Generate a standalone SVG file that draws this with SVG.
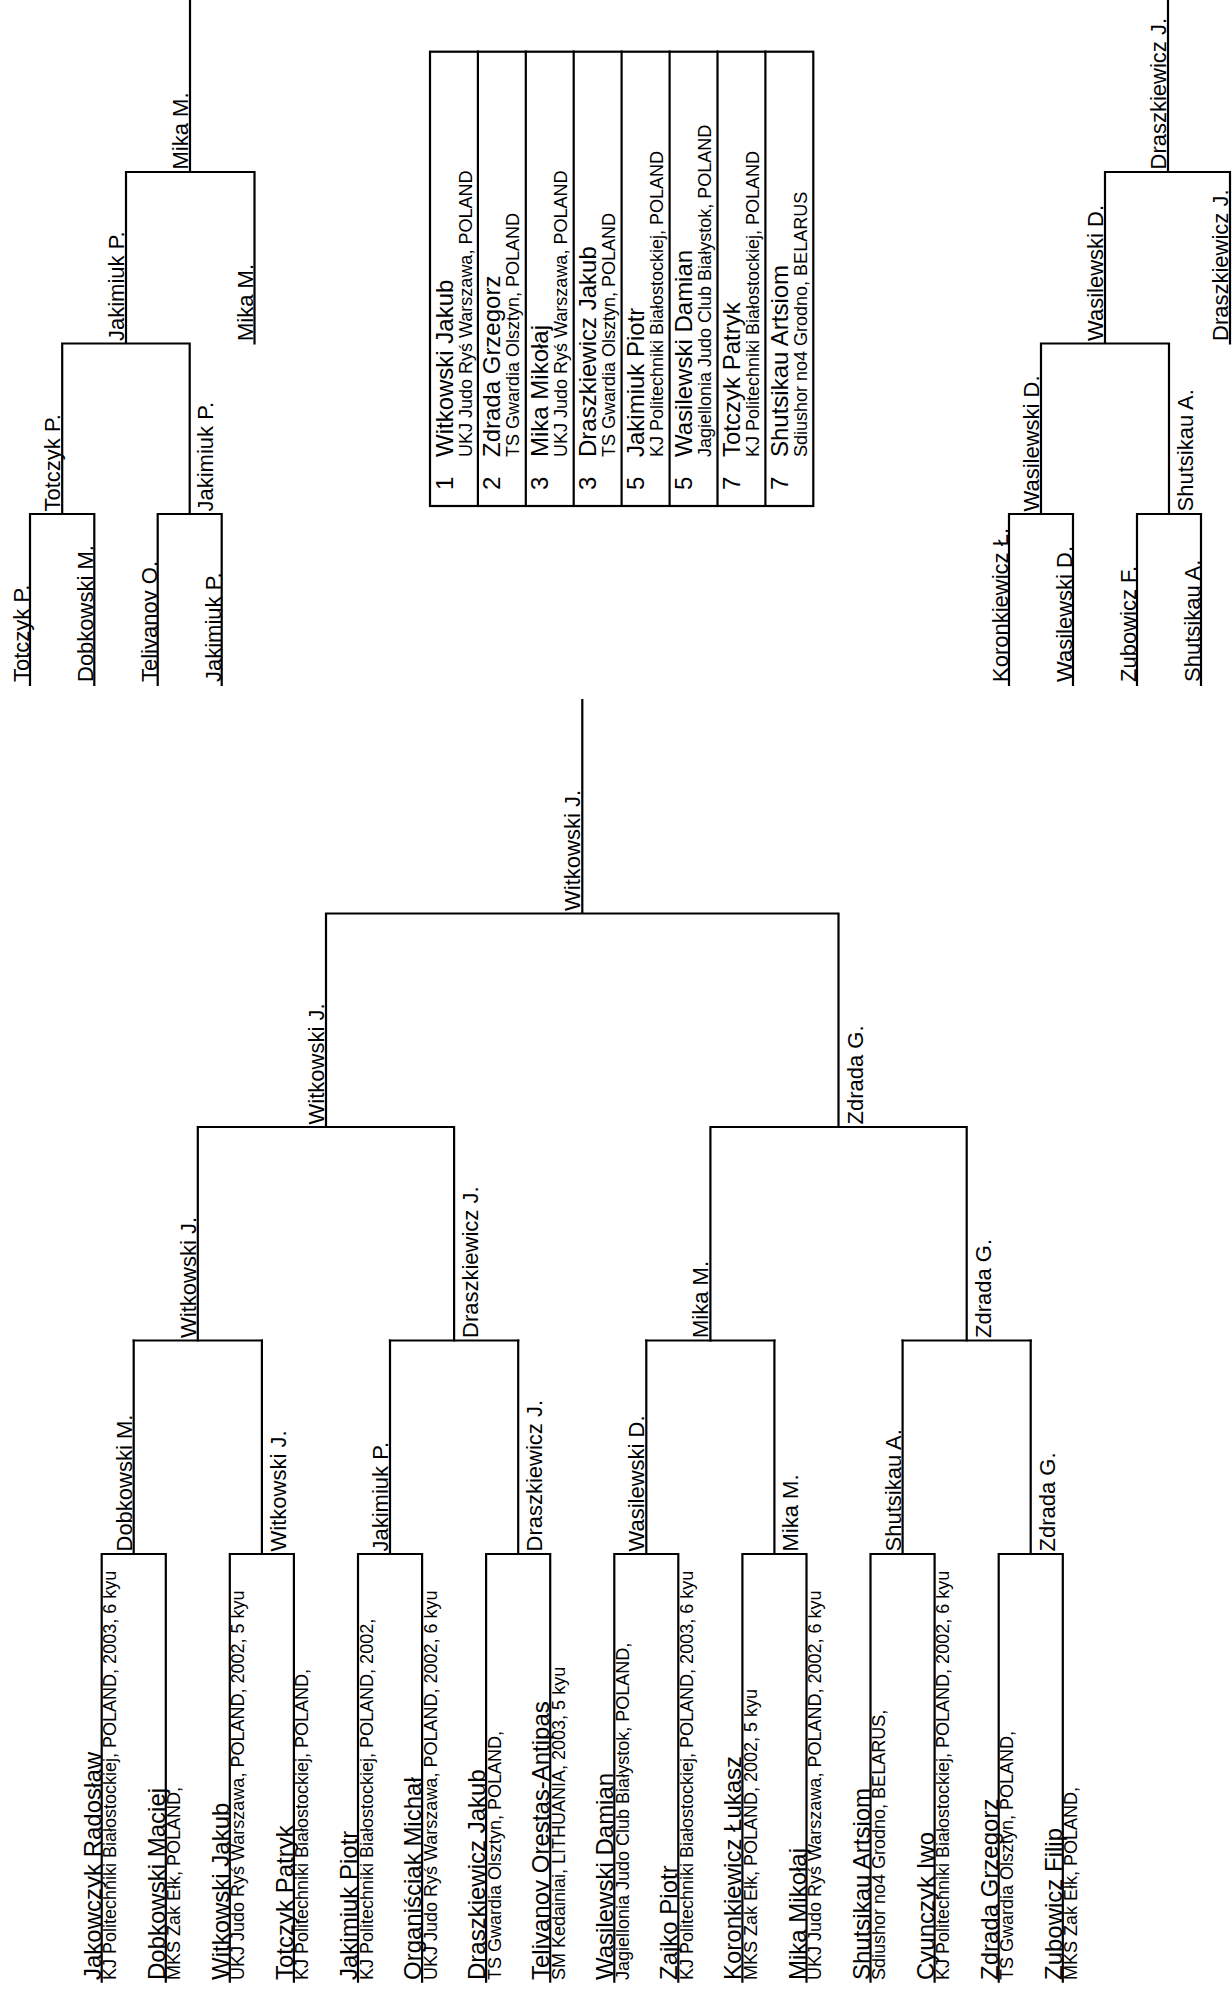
<svg xmlns="http://www.w3.org/2000/svg" width="1232" height="1990" viewBox="0 0 1232 1990">
<style>
text{font-family:"Liberation Sans",Arial,sans-serif;fill:#000}
.n{font-size:24px}
.c{font-size:18px}
.r{font-size:22px}
.rk{font-size:24px}
.ln{fill:none;stroke:#000;stroke-width:2.2;stroke-linecap:square}
</style>
<rect width="1232" height="1990" fill="#fff"/>
<g id="connectors" class="ln">
<path d="M101.7 1981.7V1554H165.8V1981.7M229.8 1981.7V1554H293.9V1981.7M358 1981.7V1554H422.1V1981.7M486.1 1981.7V1554H550.2V1981.7M614.3 1981.7V1554H678.3V1981.7M742.4 1981.7V1554H806.5V1981.7M870.5 1981.7V1554H934.6V1981.7M998.7 1981.7V1554H1062.8V1981.7"/>
<path d="M133.7 1554V1340.5M261.9 1554V1340.5M390 1554V1340.5M518.2 1554V1340.5M646.3 1554V1340.5M774.4 1554V1340.5M902.6 1554V1340.5M1030.7 1554V1340.5"/>
<path d="M133.7 1340.5H261.9M390 1340.5H518.2M646.3 1340.5H774.4M902.6 1340.5H1030.7"/>
<path d="M197.8 1340.5V1127M454.1 1340.5V1127M710.4 1340.5V1127M966.7 1340.5V1127M197.8 1127H454.1M710.4 1127H966.7"/>
<path d="M326 1127V913.5M838.5 1127V913.5M326 913.5H838.5M582.3 913.5V700"/>
<path d="M30 685V514H94.3V685M157.7 685V514H221.7V685M62.2 514V343.5M189.7 514V343.5M62.2 343.5H189.7M126 343.5V172M126 172H254.5V343.5M190 172V0"/>
<path d="M1009 685V514H1073V685M1137 685V514H1201V685M1041 514V343.5M1169 514V343.5M1041 343.5H1169M1105 343.5V172M1105 172H1230V343.5M1168 172V0"/>
</g>
<g id="leaves">
<g id="p1"><text class="n" transform="translate(100.7,1980) rotate(-90)">Jakowczyk Radosław</text><text class="c" transform="translate(116.2,1980) rotate(-90)">KJ Politechniki Białostockiej, POLAND, 2003, 6 kyu</text></g>
<g id="p2"><text class="n" transform="translate(164.8,1980) rotate(-90)">Dobkowski Maciej</text><text class="c" transform="translate(180.3,1980) rotate(-90)">MKS Zak Ełk, POLAND,</text></g>
<g id="p3"><text class="n" transform="translate(228.8,1980) rotate(-90)">Witkowski Jakub</text><text class="c" transform="translate(244.3,1980) rotate(-90)">UKJ Judo Ryś Warszawa, POLAND, 2002, 5 kyu</text></g>
<g id="p4"><text class="n" transform="translate(292.9,1980) rotate(-90)">Totczyk Patryk</text><text class="c" transform="translate(308.4,1980) rotate(-90)">KJ Politechniki Białostockiej, POLAND,</text></g>
<g id="p5"><text class="n" transform="translate(357,1980) rotate(-90)">Jakimiuk Piotr</text><text class="c" transform="translate(372.5,1980) rotate(-90)">KJ Politechniki Białostockiej, POLAND, 2002,</text></g>
<g id="p6"><text class="n" transform="translate(421.1,1980) rotate(-90)">Organiściak Michał</text><text class="c" transform="translate(436.6,1980) rotate(-90)">UKJ Judo Ryś Warszawa, POLAND, 2002, 6 kyu</text></g>
<g id="p7"><text class="n" transform="translate(485.1,1980) rotate(-90)">Draszkiewicz Jakub</text><text class="c" transform="translate(500.6,1980) rotate(-90)">TS Gwardia Olsztyn, POLAND,</text></g>
<g id="p8"><text class="n" transform="translate(549.2,1980) rotate(-90)">Telivanov Orestas-Antipas</text><text class="c" transform="translate(564.7,1980) rotate(-90)">SM Kedainiai, LITHUANIA, 2003, 5 kyu</text></g>
<g id="p9"><text class="n" transform="translate(613.3,1980) rotate(-90)">Wasilewski Damian</text><text class="c" transform="translate(628.8,1980) rotate(-90)">Jagiellonia Judo Club Białystok, POLAND,</text></g>
<g id="p10"><text class="n" transform="translate(677.3,1980) rotate(-90)">Zajko Piotr</text><text class="c" transform="translate(692.8,1980) rotate(-90)">KJ Politechniki Białostockiej, POLAND, 2003, 6 kyu</text></g>
<g id="p11"><text class="n" transform="translate(741.4,1980) rotate(-90)">Koronkiewicz Łukasz</text><text class="c" transform="translate(756.9,1980) rotate(-90)">MKS Zak Ełk, POLAND, 2002, 5 kyu</text></g>
<g id="p12"><text class="n" transform="translate(805.5,1980) rotate(-90)">Mika Mikołaj</text><text class="c" transform="translate(821,1980) rotate(-90)">UKJ Judo Ryś Warszawa, POLAND, 2002, 6 kyu</text></g>
<g id="p13"><text class="n" transform="translate(869.5,1980) rotate(-90)">Shutsikau Artsiom</text><text class="c" transform="translate(885,1980) rotate(-90)">Sdiushor no4 Grodno, BELARUS,</text></g>
<g id="p14"><text class="n" transform="translate(933.6,1980) rotate(-90)">Cyunczyk Iwo</text><text class="c" transform="translate(949.1,1980) rotate(-90)">KJ Politechniki Białostockiej, POLAND, 2002, 6 kyu</text></g>
<g id="p15"><text class="n" transform="translate(997.7,1980) rotate(-90)">Zdrada Grzegorz</text><text class="c" transform="translate(1013.2,1980) rotate(-90)">TS Gwardia Olsztyn, POLAND,</text></g>
<g id="p16"><text class="n" transform="translate(1061.8,1980) rotate(-90)">Zubowicz Filip</text><text class="c" transform="translate(1077.3,1980) rotate(-90)">MKS Zak Ełk, POLAND,</text></g>
</g>
<g id="rounds" class="r">
<text transform="translate(131.7,1551.5) rotate(-90)">Dobkowski M.</text>
<text transform="translate(285.9,1551.5) rotate(-90)">Witkowski J.</text>
<text transform="translate(388,1551.5) rotate(-90)">Jakimiuk P.</text>
<text transform="translate(542.2,1551.5) rotate(-90)">Draszkiewicz J.</text>
<text transform="translate(644.3,1551.5) rotate(-90)">Wasilewski D.</text>
<text transform="translate(798.4,1551.5) rotate(-90)">Mika M.</text>
<text transform="translate(900.6,1551.5) rotate(-90)">Shutsikau A.</text>
<text transform="translate(1054.7,1551.5) rotate(-90)">Zdrada G.</text>
<text transform="translate(195.8,1338) rotate(-90)">Witkowski J.</text>
<text transform="translate(478.1,1338) rotate(-90)">Draszkiewicz J.</text>
<text transform="translate(708.4,1338) rotate(-90)">Mika M.</text>
<text transform="translate(990.7,1338) rotate(-90)">Zdrada G.</text>
<text transform="translate(324,1124.5) rotate(-90)">Witkowski J.</text>
<text transform="translate(862.5,1124.5) rotate(-90)">Zdrada G.</text>
<text transform="translate(580.3,911) rotate(-90)">Witkowski J.</text>
</g>
<g id="repechage-left" class="r">
<text transform="translate(29,682) rotate(-90)">Totczyk P.</text>
<text transform="translate(93.3,682) rotate(-90)">Dobkowski M.</text>
<text transform="translate(156.7,682) rotate(-90)">Telivanov O.</text>
<text transform="translate(220.7,682) rotate(-90)">Jakimiuk P.</text>
<text transform="translate(60.2,511.5) rotate(-90)">Totczyk P.</text>
<text transform="translate(213.2,511.5) rotate(-90)">Jakimiuk P.</text>
<text transform="translate(124,341) rotate(-90)">Jakimiuk P.</text>
<text transform="translate(252.5,341) rotate(-90)">Mika M.</text>
<text transform="translate(188,169.5) rotate(-90)">Mika M.</text>
</g>
<g id="repechage-right" class="r">
<text transform="translate(1008,682) rotate(-90)">Koronkiewicz Ł.</text>
<text transform="translate(1072,682) rotate(-90)">Wasilewski D.</text>
<text transform="translate(1136,682) rotate(-90)">Zubowicz F.</text>
<text transform="translate(1200,682) rotate(-90)">Shutsikau A.</text>
<text transform="translate(1039,511.5) rotate(-90)">Wasilewski D.</text>
<text transform="translate(1192.5,511.5) rotate(-90)">Shutsikau A.</text>
<text transform="translate(1103,341) rotate(-90)">Wasilewski D.</text>
<text transform="translate(1228,341) rotate(-90)">Draszkiewicz J.</text>
<text transform="translate(1166,169.5) rotate(-90)">Draszkiewicz J.</text>
</g>
<g id="results">
<rect class="ln" x="430" y="51.7" width="383.3" height="454.3"/>
<path class="ln" d="M477.9 51.7V506M525.8 51.7V506M573.7 51.7V506M621.6 51.7V506M669.6 51.7V506M717.5 51.7V506M765.4 51.7V506"/>
<g id="res1"><text class="rk" transform="translate(452.5,490) rotate(-90)">1</text><text class="n" transform="translate(452.5,457) rotate(-90)">Witkowski Jakub</text><text class="c" transform="translate(471.5,457) rotate(-90)">UKJ Judo Ryś Warszawa, POLAND</text></g>
<g id="res2"><text class="rk" transform="translate(500.4,490) rotate(-90)">2</text><text class="n" transform="translate(500.4,457) rotate(-90)">Zdrada Grzegorz</text><text class="c" transform="translate(519.4,457) rotate(-90)">TS Gwardia Olsztyn, POLAND</text></g>
<g id="res3"><text class="rk" transform="translate(548.3,490) rotate(-90)">3</text><text class="n" transform="translate(548.3,457) rotate(-90)">Mika Mikołaj</text><text class="c" transform="translate(567.3,457) rotate(-90)">UKJ Judo Ryś Warszawa, POLAND</text></g>
<g id="res4"><text class="rk" transform="translate(596.2,490) rotate(-90)">3</text><text class="n" transform="translate(596.2,457) rotate(-90)">Draszkiewicz Jakub</text><text class="c" transform="translate(615.2,457) rotate(-90)">TS Gwardia Olsztyn, POLAND</text></g>
<g id="res5"><text class="rk" transform="translate(644.1,490) rotate(-90)">5</text><text class="n" transform="translate(644.1,457) rotate(-90)">Jakimiuk Piotr</text><text class="c" transform="translate(663.1,457) rotate(-90)">KJ Politechniki Białostockiej, POLAND</text></g>
<g id="res6"><text class="rk" transform="translate(692.1,490) rotate(-90)">5</text><text class="n" transform="translate(692.1,457) rotate(-90)">Wasilewski Damian</text><text class="c" transform="translate(711.1,457) rotate(-90)">Jagiellonia Judo Club Białystok, POLAND</text></g>
<g id="res7"><text class="rk" transform="translate(740,490) rotate(-90)">7</text><text class="n" transform="translate(740,457) rotate(-90)">Totczyk Patryk</text><text class="c" transform="translate(759,457) rotate(-90)">KJ Politechniki Białostockiej, POLAND</text></g>
<g id="res8"><text class="rk" transform="translate(787.9,490) rotate(-90)">7</text><text class="n" transform="translate(787.9,457) rotate(-90)">Shutsikau Artsiom</text><text class="c" transform="translate(806.9,457) rotate(-90)">Sdiushor no4 Grodno, BELARUS</text></g>
</g>
</svg>
